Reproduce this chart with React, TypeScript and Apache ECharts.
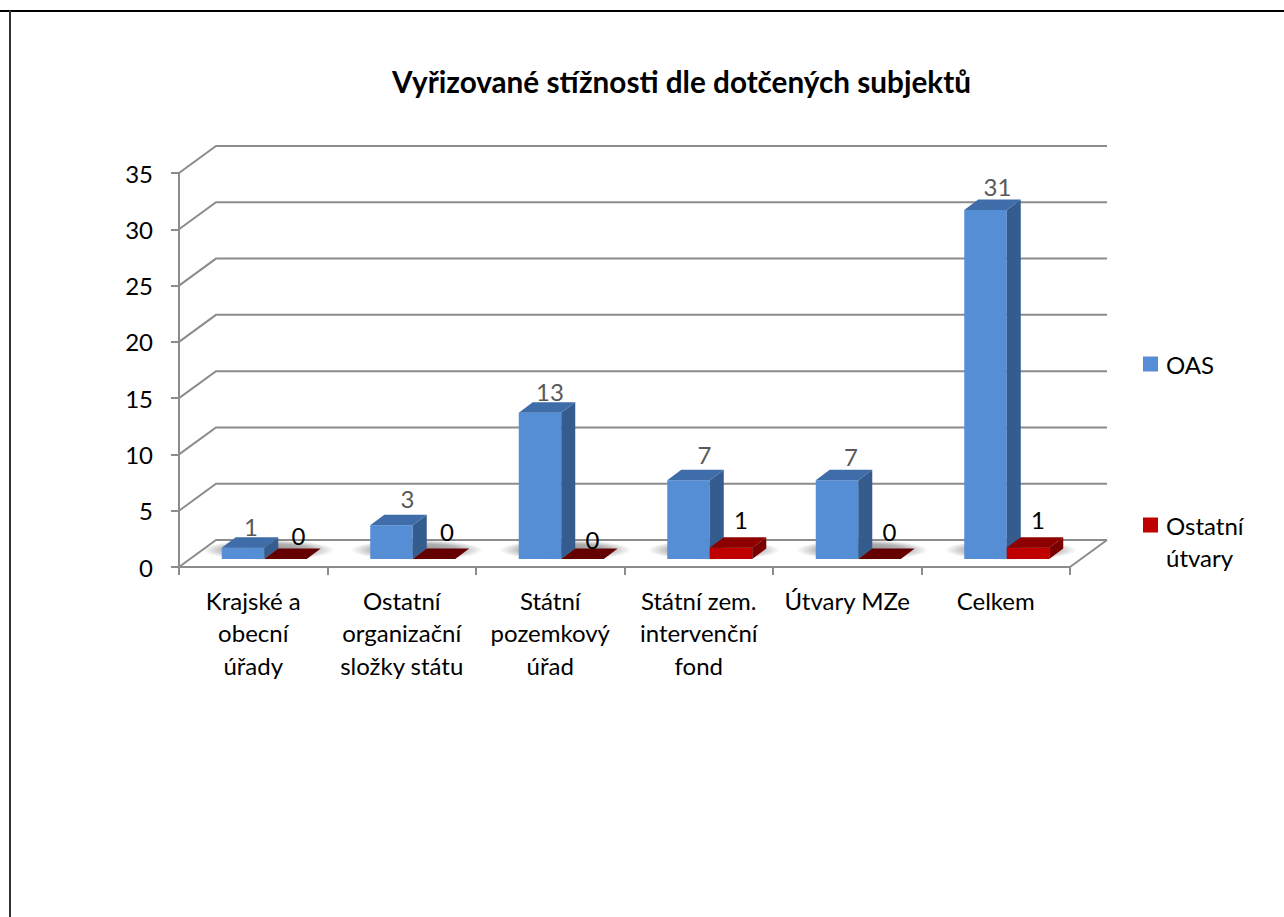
import React, { useEffect, useRef } from "react";
import * as echarts from "echarts";

const categories = [
  "Krajské a\nobecní\núřady",
  "Ostatní\norganizační\nsložky státu",
  "Státní\npozemkový\núřad",
  "Státní zem.\nintervenční\nfond",
  "Útvary MZe",
  "Celkem",
];
const oasValues = [1, 3, 13, 7, 7, 31];
const otherValues = [0, 0, 0, 1, 0, 1];
const yTicks = [0, 5, 10, 15, 20, 25, 30, 35];
const titleText = "Vyřizované stížnosti dle dotčených subjektů";
const oasName = "OAS";
const otherName = "Ostatní útvary";

// Perspective offsets and hand-placed label nudges (pixels)
const WALL_DX = 37;
const WALL_DY = -27;
const PLANE_DX = 11;
const PLANE_DY = -8;
const BAR_W = 42.5;
const DEPTH_DX = 14;
const DEPTH_DY = -10.5;
const oasLabelDx = [8, 16, 10, 16, 14, 12];
const oasLabelDy = [-21, -27, -21, -26, -24, -24];
const otherLabelDx = [13, 13, 10, 10, 10, 10];
const otherLabelDy = [-24, -28, -20, -28, -28, -28];

const FONT = "Lato, Carlito, 'Open Sans', sans-serif";
const FS = 24;

const barRenderer =
  (
    side: 0 | 1,
    front: string,
    top: string,
    flatTop: string,
    right: string,
    labelColor: string,
    dxs: number[],
    dys: number[]
  ) =>
  (_params: any, api: any) => {
    const idx = api.value(0);
    const val = api.value(1);
    const [cx, y0] = api.coord([idx, 0]);
    const [, y1raw] = api.coord([idx, val]);
    const x0 = cx + PLANE_DX + (side === 0 ? -BAR_W : 0);
    const x1 = x0 + BAR_W;
    const yb = y0 + PLANE_DY;
    const yt = y1raw + PLANE_DY;
    const dx = DEPTH_DX;
    const dy = DEPTH_DY;
    const children: any[] = [];
    if (val > 0) {
      children.push({
        type: "polygon",
        shape: { points: [[x0, yb], [x1, yb], [x1, yt], [x0, yt]] },
        style: { fill: front },
      });
      children.push({
        type: "polygon",
        shape: { points: [[x1, yb], [x1 + dx, yb + dy], [x1 + dx, yt + dy], [x1, yt]] },
        style: { fill: right },
      });
    }
    children.push({
      type: "polygon",
      shape: { points: [[x0, yt], [x1, yt], [x1 + dx, yt + dy], [x0 + dx, yt + dy]] },
      style: { fill: val > 0 ? top : flatTop },
    });
    children.push({
      type: "text",
      style: {
        text: String(val),
        x: (x0 + x1) / 2 + dxs[idx],
        y: yt + dys[idx],
        fill: labelColor,
        fontSize: FS,
        fontFamily: FONT,
        align: "center",
        verticalAlign: "middle",
      },
    });
    return { type: "group", children };
  };

function buildOption() {
  return {
    animation: false,
    backgroundColor: "#fff",
    title: {
      text: titleText,
      left: 676.5,
      top: 61,
      textAlign: "center",
      textStyle: { fontFamily: FONT, fontWeight: "bold", fontSize: 29.7, color: "#000" },
    },
    graphic: [
      { type: "rect", silent: true, shape: { x: 0, y: 10, width: 1284, height: 2 }, style: { fill: "#000" } },
      { type: "rect", silent: true, shape: { x: 9, y: 10, width: 2, height: 907 }, style: { fill: "#333" } },
    ],
    legend: [
      {
        data: [oasName],
        left: 1143,
        top: 352,
        icon: "rect",
        itemWidth: 15,
        itemHeight: 15,
        itemGap: 0,
        padding: 0,
        textStyle: { fontFamily: FONT, fontSize: FS, color: "#000", padding: [0, 0, 0, 3] },
      },
      {
        data: [otherName],
        left: 1143,
        top: 477,
        icon: "rect",
        itemWidth: 15,
        itemHeight: 15,
        itemGap: 0,
        padding: 0,
        formatter: () => " \nOstatní\nútvary",
        textStyle: { fontFamily: FONT, fontSize: FS, lineHeight: 32, color: "#000", padding: [0, 0, 0, 3] },
      },
    ],
    grid: { left: 179, right: 214, top: 173, bottom: 350, containLabel: false },
    xAxis: {
      type: "category",
      data: categories,
      axisLine: { lineStyle: { color: "#8c8c8c", width: 2 } },
      axisTick: { show: true, length: 8, alignWithLabel: false, lineStyle: { color: "#8c8c8c", width: 2 } },
      axisLabel: {
        interval: 0,
        fontFamily: FONT,
        fontSize: FS,
        color: "#000",
        lineHeight: 32.5,
        margin: 17,
      },
    },
    yAxis: {
      type: "value",
      min: 0,
      max: 35,
      interval: 5,
      axisLine: { show: true, lineStyle: { color: "#8c8c8c", width: 2 } },
      axisTick: { show: true, length: 8, lineStyle: { color: "#8c8c8c", width: 2 } },
      splitLine: { show: false },
      axisLabel: { fontFamily: FONT, fontSize: FS, color: "#000", margin: 26 },
    },
    series: [
      {
        type: "custom",
        name: "walls",
        silent: true,
        z: 1,
        clip: false,
        data: yTicks.map((v) => [0, v]),
        renderItem: (params: any, api: any) => {
          const cs = params.coordSys;
          const v = api.value(1);
          const [, y] = api.coord([0, v]);
          const stroke = { stroke: "#8c8c8c", lineWidth: 2, fill: "none" };
          const children: any[] = [
            {
              type: "polyline",
              shape: {
                points: [
                  [cs.x, y],
                  [cs.x + WALL_DX, y + WALL_DY],
                  [cs.x + cs.width + WALL_DX, y + WALL_DY],
                ],
              },
              style: stroke,
            },
          ];
          if (v === 0) {
            children.push({
              type: "line",
              shape: {
                x1: cs.x + cs.width,
                y1: y,
                x2: cs.x + cs.width + WALL_DX,
                y2: y + WALL_DY,
              },
              style: stroke,
            });
          }
          return { type: "group", children };
        },
      },
      {
        type: "custom",
        name: "shadow",
        silent: true,
        z: 2,
        clip: false,
        data: categories.map((_, i) => [i, 0]),
        renderItem: (_p: any, api: any) => {
          const [cx, y0] = api.coord([api.value(0), 0]);
          return {
            type: "ellipse",
            shape: {
              cx: cx + PLANE_DX + 4,
              cy: y0 + PLANE_DY + DEPTH_DY + 1.5,
              rx: 66,
              ry: 10,
            },
            style: {
              fill: new echarts.graphic.RadialGradient(0.5, 0.5, 0.5, [
                { offset: 0, color: "rgba(0,0,0,0.45)" },
                { offset: 0.65, color: "rgba(0,0,0,0.3)" },
                { offset: 1, color: "rgba(0,0,0,0)" },
              ]),
            },
          };
        },
      },
      {
        type: "custom",
        name: oasName,
        z: 3,
        clip: false,
        itemStyle: { color: "#558ed5" },
        data: oasValues.map((v, i) => [i, v]),
        renderItem: barRenderer(0, "#558ed5", "#3f6da9", "#3f6da9", "#355c8f", "#595959", oasLabelDx, oasLabelDy),
      },
      {
        type: "custom",
        name: otherName,
        z: 4,
        clip: false,
        itemStyle: { color: "#c00000" },
        data: otherValues.map((v, i) => [i, v]),
        renderItem: barRenderer(1, "#c00000", "#8e0000", "#650000", "#7c0000", "#000", otherLabelDx, otherLabelDy),
      },
    ],
  };
}

export default function App() {
  const ref = useRef<HTMLDivElement>(null);
  useEffect(() => {
    if (!ref.current) return;
    const chart = echarts.init(ref.current, undefined, { renderer: "svg" });
    chart.setOption(buildOption() as any);
    return () => chart.dispose();
  }, []);
  return (
    <div
      ref={ref}
      style={{ position: "absolute", left: 0, top: 0, width: 1284, height: 917, background: "#fff" }}
    />
  );
}
